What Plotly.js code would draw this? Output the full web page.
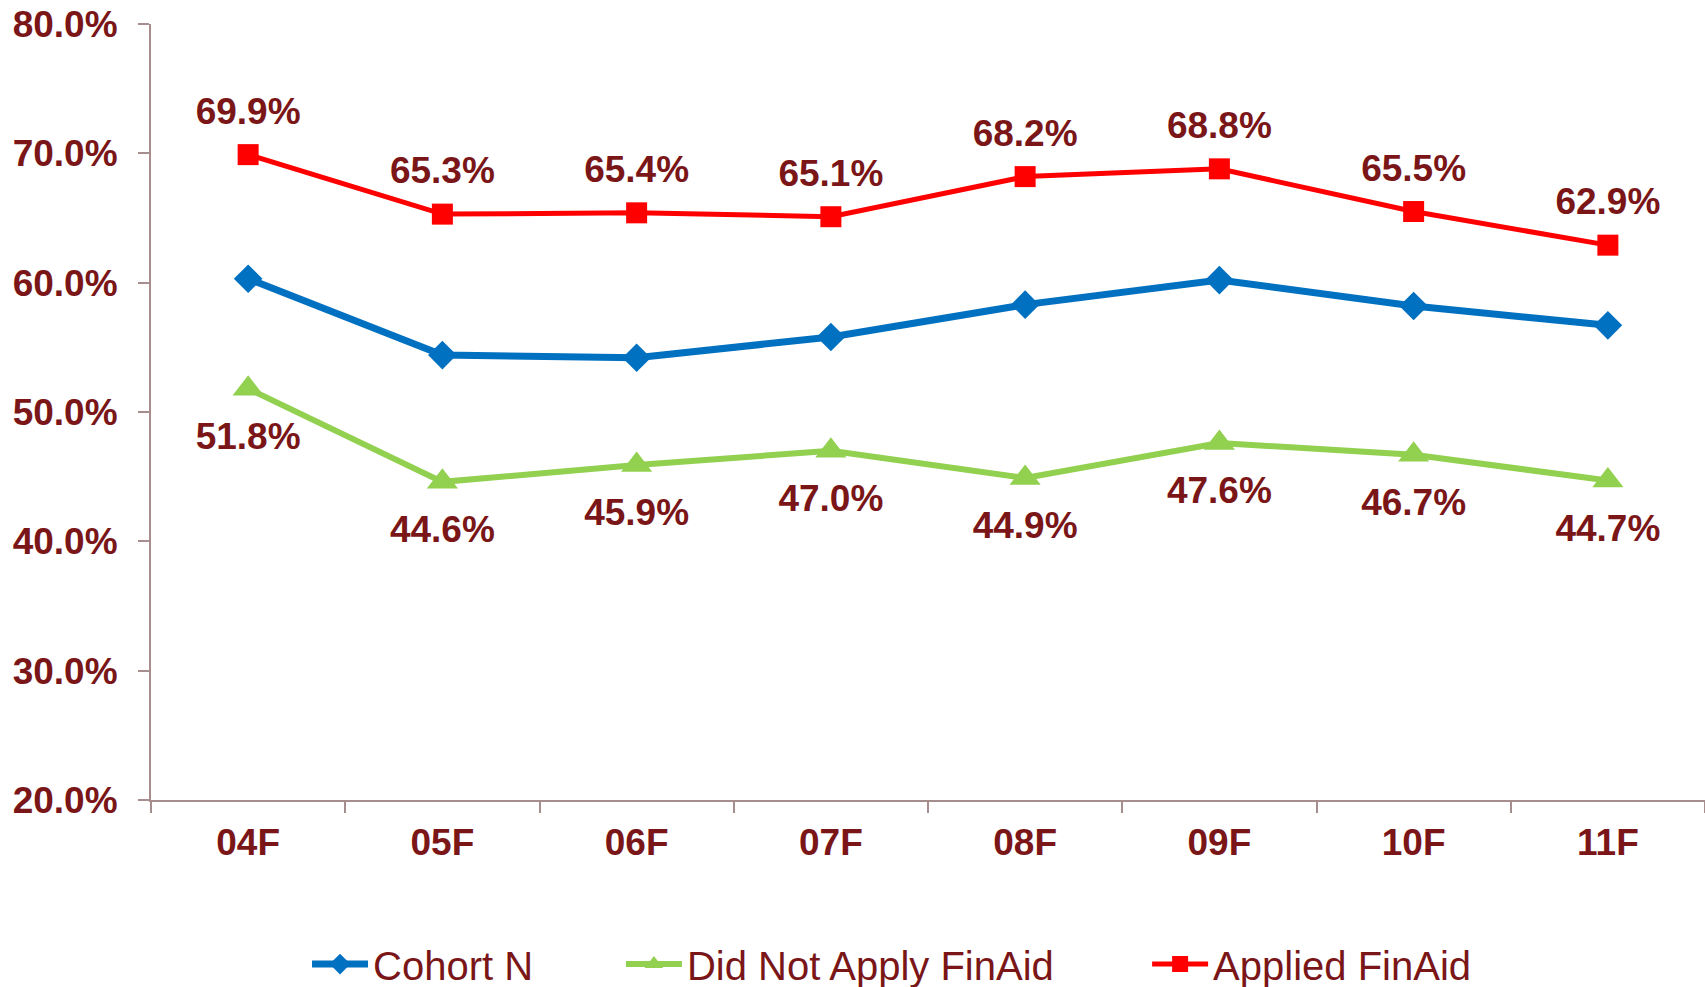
<!DOCTYPE html>
<html>
<head>
<meta charset="utf-8">
<script src="https://cdn.plot.ly/plotly-3.0.1.min.js"></script>
<style>html,body{margin:0;padding:0;background:#fff;}#chart{width:1705px;height:987px;}</style>
</head>
<body>
<div id="chart"></div>
<script>
const categories = ["04F", "05F", "06F", "07F", "08F", "09F", "10F", "11F"];
const cohortN = [60.3, 54.4, 54.2, 55.8, 58.3, 60.2, 58.2, 56.7];
const didNotApply = [51.8, 44.6, 45.9, 47.0, 44.9, 47.6, 46.7, 44.7];
const appliedFinAid = [69.9, 65.3, 65.4, 65.1, 68.2, 68.8, 65.5, 62.9];
const yTickVals = [20, 30, 40, 50, 60, 70, 80];
const yTickText = ["20.0%", "30.0%", "40.0%", "50.0%", "60.0%", "70.0%", "80.0%"];

const textColor = "#7a1618";
const axisColor = "#a68e8e";
const fontFamily = "'Liberation Sans', Arial, sans-serif";

const traces = [
  {
    x: categories, y: cohortN, name: "Cohort N", type: "scatter", mode: "lines+markers",
    line: {color: "#0070C0", width: 7},
    marker: {symbol: "diamond", size: 22, color: "#0070C0"},
    cliponaxis: false, legend: "legend"
  },
  {
    x: categories, y: didNotApply, name: "Did Not Apply FinAid", type: "scatter", mode: "lines+markers",
    line: {color: "#92D050", width: 6},
    marker: {symbol: "triangle-up", size: 27, color: "#92D050"},
    cliponaxis: false, legend: "legend2"
  },
  {
    x: categories, y: appliedFinAid, name: "Applied FinAid", type: "scatter", mode: "lines+markers",
    line: {color: "#FF0000", width: 5},
    marker: {symbol: "square", size: 21, color: "#FF0000"},
    cliponaxis: false, legend: "legend3"
  },
  {
    x: categories, y: didNotApply, type: "scatter", mode: "markers+text", showlegend: false, hoverinfo: "skip",
    marker: {size: 50, color: "rgba(0,0,0,0)"},
    texttemplate: "%{y:.1f}%", textposition: "bottom center",
    textfont: {family: fontFamily, size: 37, color: textColor, weight: "bold"},
    cliponaxis: false
  },
  {
    x: categories, y: appliedFinAid, type: "scatter", mode: "markers+text", showlegend: false, hoverinfo: "skip",
    marker: {size: 33, color: "rgba(0,0,0,0)"},
    texttemplate: "%{y:.1f}%", textposition: "top center",
    textfont: {family: fontFamily, size: 37, color: textColor, weight: "bold"},
    cliponaxis: false
  }
];

const legendBase = {
  orientation: "h", xanchor: "left", y: -0.2115, yanchor: "middle",
  font: {family: fontFamily, size: 40, color: textColor},
  itemwidth: 56, bgcolor: "rgba(0,0,0,0)"
};

const layout = {
  width: 1705, height: 987,
  margin: {l: 151, r: 0, t: 24, b: 187, pad: 0, autoexpand: false},
  paper_bgcolor: "#ffffff", plot_bgcolor: "#ffffff",
  font: {family: fontFamily, color: textColor},
  showlegend: true,
  xaxis: {
    type: "category", categoryarray: categories, range: [-0.5, 7.5],
    showgrid: false, zeroline: false, showline: true, linecolor: axisColor, linewidth: 2,
    ticks: "outside", tickson: "boundaries", ticklen: 11, tickwidth: 2, tickcolor: axisColor,
    tickfont: {family: fontFamily, size: 37, color: textColor, weight: "bold"},
    ticklabelstandoff: 9,
    fixedrange: true
  },
  yaxis: {
    range: [20, 80], tickmode: "array", tickvals: yTickVals, ticktext: yTickText,
    showgrid: false, zeroline: false, showline: true, linecolor: axisColor, linewidth: 2,
    ticks: "outside", ticklen: 11, tickwidth: 2, tickcolor: axisColor,
    tickfont: {family: fontFamily, size: 37, color: textColor, weight: "bold"},
    ticklabelstandoff: 13,
    fixedrange: true
  },
  legend: Object.assign({}, legendBase, {x: 0.1004}),
  legend2: Object.assign({}, legendBase, {x: 0.3024}),
  legend3: Object.assign({}, legendBase, {x: 0.641})
};

Plotly.newPlot("chart", traces, layout, {displayModeBar: false, staticPlot: true});
</script>
</body>
</html>
